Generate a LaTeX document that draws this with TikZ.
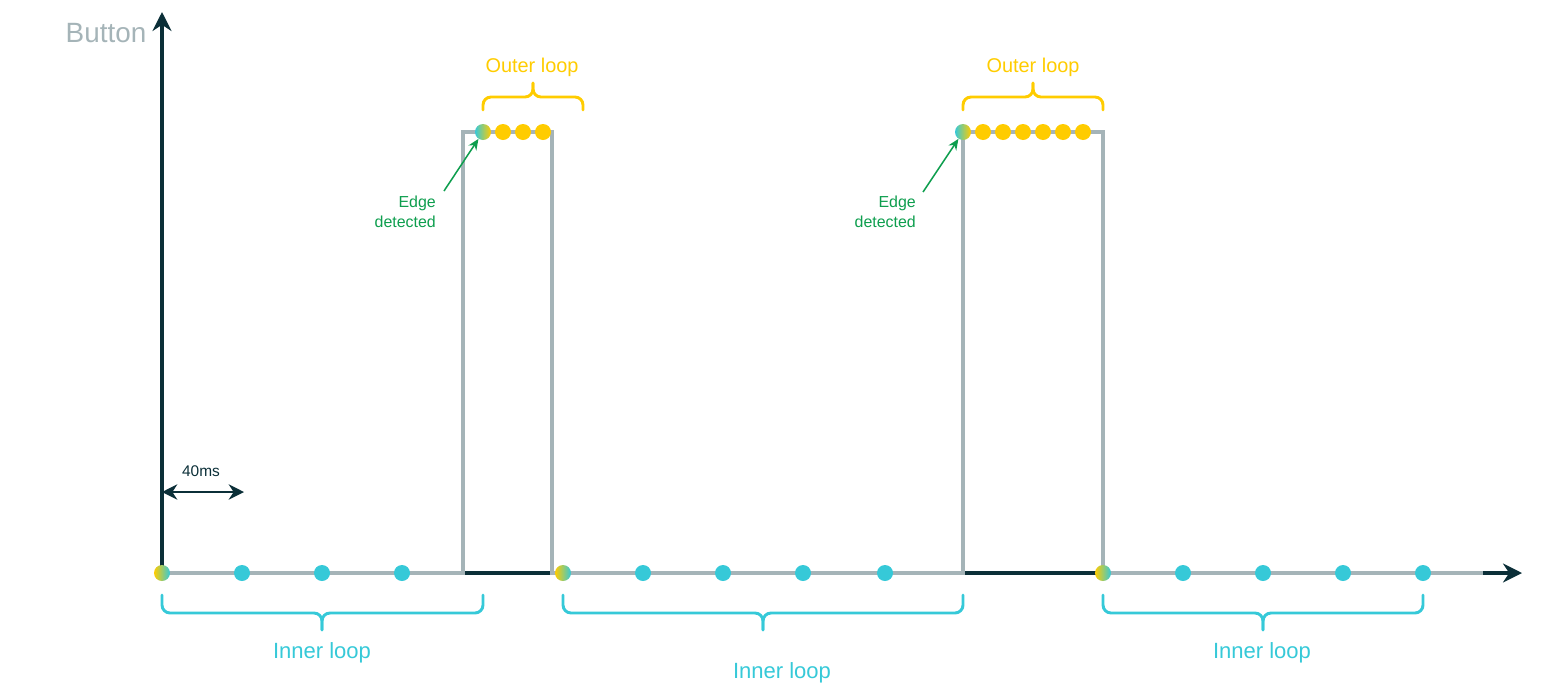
\documentclass[tikz,border=0pt]{standalone}
\usepackage{fontspec}
\setmainfont{Liberation Sans}
\usetikzlibrary{arrows.meta}
\definecolor{axisdark}{HTML}{0B2F38}
\definecolor{siggray}{HTML}{A5B4B8}
\definecolor{innerc}{HTML}{36C9D8}
\definecolor{outerc}{HTML}{FFCC00}
\definecolor{edgec}{HTML}{0E9E4E}

\begin{document}
\begin{tikzpicture}[
   x=0.03cm, y=-0.03cm,
   axis/.style={draw=axisdark, line width=2.6pt, -{Stealth[length=0.57cm, width=0.57cm]}},
   signal/.style={draw=siggray, line width=2.6pt},
   tdot/.style={circle, fill=innerc, inner sep=0pt, minimum size=0.48cm},
   ydot/.style={circle, fill=outerc, inner sep=0pt, minimum size=0.48cm},
   rise/.style={circle, left color=innerc, right color=outerc, inner sep=0pt, minimum size=0.48cm},
   fall/.style={circle, left color=outerc, right color=innerc, inner sep=0pt, minimum size=0.48cm},
   ibrace/.style={draw=innerc, line width=2.5pt, line cap=round, rounded corners=0.24cm},
   obrace/.style={draw=outerc, line width=2.5pt, line cap=round, rounded corners=0.24cm},
   edgearrow/.style={draw=edgec, line width=1.3pt, -{Stealth[length=0.33cm, width=0.28cm]}},
   dimarrow/.style={draw=axisdark, line width=1.7pt, {Stealth[length=0.46cm, width=0.46cm]}-{Stealth[length=0.46cm, width=0.46cm]}},
   looplabel/.style={font=\fontsize{17}{20}\selectfont},
   innerlabel/.style={font=\fontsize{18.8}{22}\selectfont, text=innerc},
   note/.style={font=\fontsize{13.6}{17}\selectfont, text=edgec, align=right, inner sep=0pt}
]
\useasboundingbox (0,0) rectangle (1564,694);

% axes
\coordinate (origin) at (162,573);
\coordinate (xend) at (1522,573);
\coordinate (yend) at (162,12);
\draw[axis] (origin) -- (xend);
\draw[axis] (origin) -- (yend);
\node[text=siggray, font=\fontsize{23.8}{28}\selectfont] (ylabel) at (106,33) {Button};

% button signal
\draw[signal] (origin) -- (463,573) -- (463,132) -- (552,132) -- (552,573)
   -- (963,573) -- (963,132) -- (1103,132) -- (1103,573) -- (1483,573);

% inner loop samples
\node[fall] (i1) at (162,573) {};
\node[tdot] (i2) at (242,573) {};
\node[tdot] (i3) at (322,573) {};
\node[tdot] (i4) at (402,573) {};
\node[fall] (j1) at (563,573) {};
\node[tdot] (j2) at (643,573) {};
\node[tdot] (j3) at (723,573) {};
\node[tdot] (j4) at (803,573) {};
\node[tdot] (j5) at (885,573) {};
\node[fall] (k1) at (1103,573) {};
\node[tdot] (k2) at (1183,573) {};
\node[tdot] (k3) at (1263,573) {};
\node[tdot] (k4) at (1343,573) {};
\node[tdot] (k5) at (1423,573) {};

% outer loop samples
\node[rise] (o1) at (483,132) {};
\node[ydot] (o2) at (503,132) {};
\node[ydot] (o3) at (523,132) {};
\node[ydot] (o4) at (543,132) {};
\node[rise] (p1) at (963,132) {};
\node[ydot] (p2) at (983,132) {};
\node[ydot] (p3) at (1003,132) {};
\node[ydot] (p4) at (1023,132) {};
\node[ydot] (p5) at (1043,132) {};
\node[ydot] (p6) at (1063,132) {};
\node[ydot] (p7) at (1083,132) {};

% edge detection
\node[note, anchor=east] (edge1) at (436,212) {Edge\\detected};
\coordinate (e1) at (444,191);
\draw[edgearrow] (e1) -- (o1);
\node[note, anchor=east] (edge2) at (916,212) {Edge\\detected};
\coordinate (e2) at (923,192);
\draw[edgearrow] (e2) -- (p1);

% sample period
\coordinate (t0) at (162,492);
\coordinate (t1) at (244,492);
\draw[dimarrow] (t0) -- (t1);
\node[text=axisdark, font=\fontsize{13.2}{16}\selectfont] (period) at (201,471) {40ms};

% outer loop braces
\draw[obrace] (483,110) |- (533,97) -- (533,83);
\draw[obrace] (583,110) |- (533,97) -- (533,83);
\node[looplabel, text=outerc] (outer1) at (532,67) {Outer loop};
\draw[obrace] (963,110) |- (1033,97) -- (1033,83);
\draw[obrace] (1103,110) |- (1033,97) -- (1033,83);
\node[looplabel, text=outerc] (outer2) at (1033,67) {Outer loop};

% inner loop braces
\draw[ibrace] (162,595) |- (322,613) -- (322,630);
\draw[ibrace] (483,595) |- (322,613) -- (322,630);
\node[innerlabel] (inner1) at (322,653) {Inner loop};
\draw[ibrace] (563,595) |- (763,613) -- (763,630);
\draw[ibrace] (963,595) |- (763,613) -- (763,630);
\node[innerlabel] (inner2) at (782,673) {Inner loop};
\draw[ibrace] (1103,595) |- (1263,613) -- (1263,630);
\draw[ibrace] (1423,595) |- (1263,613) -- (1263,630);
\node[innerlabel] (inner3) at (1262,653) {Inner loop};

\end{tikzpicture}
\end{document}
